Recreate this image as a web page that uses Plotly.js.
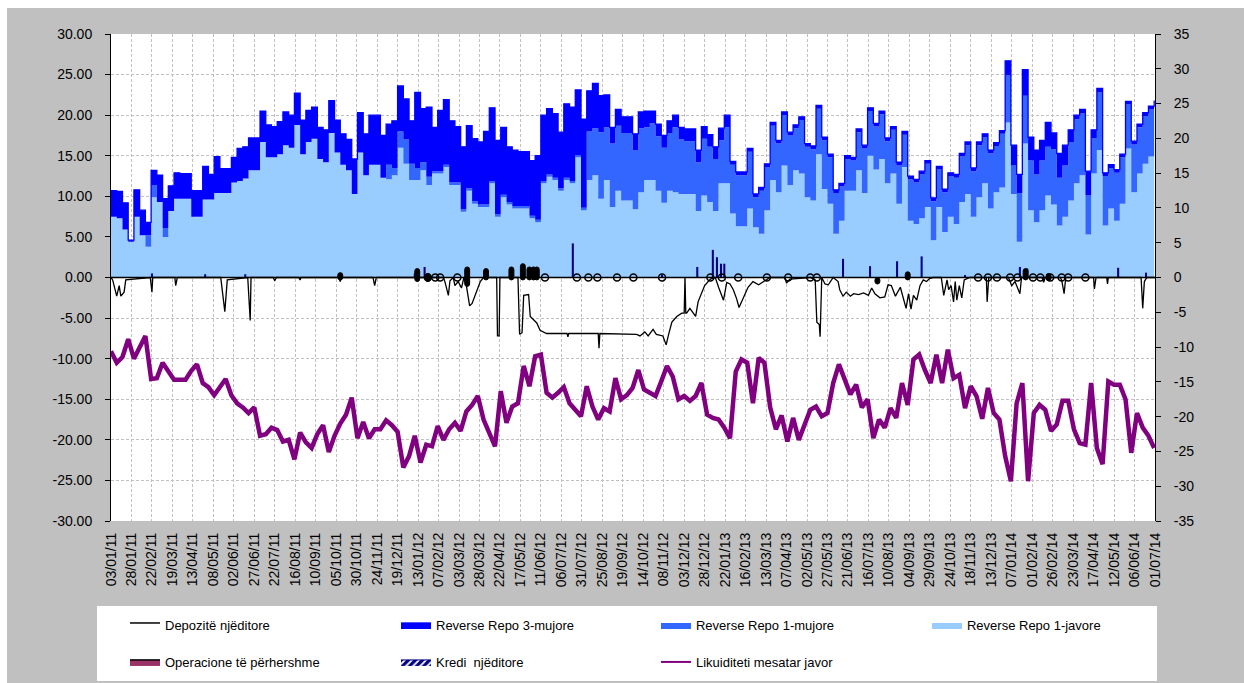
<!DOCTYPE html>
<html><head><meta charset="utf-8">
<script src="https://cdn.plot.ly/plotly-3.0.1.min.js"></script>
<style>html,body{margin:0;padding:0;background:#fff;} #chart{width:1244px;height:683px;}</style>
</head><body><div id="chart"></div>
<script>
const FONT = 'Liberation Sans, Arial, Helvetica, sans-serif';

// x-axis tick labels (every 25 days)
const xTickLabels = ['03/01/11','28/01/11','22/02/11','19/03/11','13/04/11','08/05/11','02/06/11','27/06/11','22/07/11','16/08/11','10/09/11','05/10/11','30/10/11','24/11/11','19/12/11',
'13/01/12','07/02/12','03/03/12','28/03/12','22/04/12','17/05/12','11/06/12','06/07/12','31/07/12','25/08/12','19/09/12','14/10/12','08/11/12','03/12/12','28/12/12',
'22/01/13','16/02/13','13/03/13','07/04/13','02/05/13','27/05/13','21/06/13','16/07/13','10/08/13','04/09/13','29/09/13','24/10/13','18/11/13','13/12/13',
'07/01/14','01/02/14','26/02/14','23/03/14','17/04/14','12/05/14','06/06/14','01/07/14'];
const leftTicks = [-30,-25,-20,-15,-10,-5,0,5,10,15,20,25,30];
const rightTicks = [-35,-30,-25,-20,-15,-10,-5,0,5,10,15,20,25,30,35];

// weekly series (week 0 = 03/01/2011)
const repo1javore = [
7.5,7.3,5.9,4.4,7.5,5.2,3.8,9.9,9.3,5.0,
8.2,9.7,9.7,9.7,7.5,7.5,9.6,9.6,10.4,10.4,
10.4,11.7,11.9,12.2,13.2,13.2,16.7,14.8,14.8,15.2,
16.3,16.0,18.8,15.2,16.7,17.1,14.6,14.2,17.8,15.4,
13.9,13.2,10.3,15.4,12.6,13.9,13.9,12.3,12.1,12.6,
16.0,14.0,12.0,12.0,13.2,11.4,12.8,12.8,13.6,11.4,
11.4,8.1,10.7,9.1,8.7,8.7,11.6,7.5,9.9,9.0,
8.5,8.5,8.5,7.3,6.8,11.6,12.4,12.0,10.7,12.0,
11.6,14.8,8.3,12.0,12.6,9.7,12.0,8.7,10.7,9.5,
9.5,8.4,10.5,12.0,12.0,10.7,9.2,10.7,10.5,10.3,
10.3,10.3,8.2,10.1,9.3,8.2,11.6,11.6,7.9,6.3,
6.3,8.5,6.2,5.4,8.3,12.0,10.5,13.8,11.4,13.2,
12.8,9.9,9.5,15.2,10.9,9.1,5.4,7.0,10.7,10.7,
13.2,10.4,15.0,13.3,14.6,11.6,12.8,9.1,13.6,7.0,
6.6,7.3,8.7,4.6,8.7,5.6,7.5,6.6,9.3,10.3,
7.5,9.9,11.6,8.5,10.5,11.1,19.1,10.3,4.4,16.5,
8.3,6.8,8.3,10.1,9.0,6.4,7.5,9.5,11.6,12.6,
5.3,12.8,15.7,6.4,8.5,7.0,9.1,15.9,10.5,12.8,
14.0,14.9,14.9];
const repo1mujore = [
0,0,0,0,0,0,1.4,1.5,0,1.1,
0,0,0,0,0,0,0,0,0,0,
0,0,0,0,0,0,0,0,0,0,
0,0,0,0,0,0,0,0,0,0,
0,0,0,0,0,0,0,0,1.8,0.9,
2.0,3.0,2.0,1.5,1.0,1.0,0.3,0.3,0.3,0.3,
0.3,0.3,0.3,0.3,0.3,0.3,0.3,0.3,0.3,0.3,
0.3,0.3,0.3,0.3,0.3,0.3,0.3,0.3,0.3,0.3,
0.3,0.3,0.3,6.0,5.8,8.2,6.5,7.8,8.0,8.3,
8.3,7.3,7.9,6.5,7.0,6.7,6.8,7.1,8.0,6.7,
6.5,6.5,6.0,7.0,6.8,6.4,5.3,6.9,6.0,6.3,
6.3,7.0,3.7,5.3,5.3,6.7,6.0,6.2,6.1,5.2,
6.6,6.2,6.3,5.6,6.0,5.7,5.0,4.2,3.9,3.7,
4.7,5.5,5.5,5.3,5.5,5.2,5.4,4.7,4.0,5.1,
5.1,5.4,5.3,4.8,4.6,4.9,5.0,5.7,5.6,6.0,
5.6,6.4,5.7,6.8,5.7,6.6,5.8,3.5,6.0,5.9,
6.1,5.9,6.1,6.0,6.8,5.9,6.3,7.2,7.9,7.6,
4.8,4.4,7.1,6.1,5.0,5.9,5.7,5.4,5.9,5.7,
5.9,5.8,6.5];
const repo3mujore = [
3.2,3.3,3.3,0.2,3.3,3.1,1.6,1.8,3.3,3.6,
3.1,3.2,3.1,3.1,3.2,3.2,4.1,3.1,4.5,3.0,
3.0,3.1,4.0,3.9,4.0,4.0,3.8,4.0,3.8,4.0,
4.1,4.0,3.9,4.2,3.9,3.9,3.9,4.0,4.0,4.0,
3.8,3.8,4.3,4.9,5.1,6.1,6.1,5.2,5.0,5.8,
5.6,5.0,5.3,9.3,6.6,8.6,5.4,7.5,8.0,7.6,
6.9,7.7,7.7,7.7,7.7,9.0,9.0,9.1,8.3,6.8,
6.9,6.7,6.7,6.8,7.9,8.1,8.1,7.9,6.9,9.1,
9.1,8.0,10.9,5.0,5.5,4.5,4.0,2.0,2.0,2.0,
2.0,2.0,2.0,2.0,1.5,1.5,1.5,1.5,1.5,1.5,
1.5,1.5,1.5,1.5,1.5,1.5,1.5,1.5,0.4,0.4,
0.4,0.4,0.4,0.4,0.4,0.4,0.4,0.4,0.4,0.4,
0.4,0.4,0.4,0.4,0.4,0.4,0.4,0.4,0.4,0.4,
0.4,0.4,0.4,0.4,0.4,0.4,0.4,0.4,0.4,0.4,
0.4,0.4,0.4,0.4,0.4,0.4,0.4,0.4,0.4,0.4,
0.4,0.4,0.4,0.4,0.4,0.4,1.8,2.5,2.3,3.2,
2.9,3.0,2.5,3.0,2.0,3.0,2.5,1.5,0.5,0.5,
3.0,1.0,0.5,0.4,0.4,0.4,0.4,0.4,0.4,0.4,
0.4,0.4,0.4];
const likuiditetiJavor = [
-9.1,-10.5,-9.8,-7.6,-10.0,-8.7,-7.2,-12.5,-12.4,-10.5,
-11.5,-12.6,-12.6,-12.6,-11.5,-10.7,-13.0,-13.5,-14.5,-13.6,
-12.5,-14.5,-15.5,-16.0,-16.7,-16.0,-19.5,-19.3,-18.5,-18.8,
-20.2,-20.0,-22.4,-19.1,-20.3,-21.0,-19.3,-18.2,-21.5,-19.5,
-18.0,-16.9,-14.8,-19.8,-17.8,-19.8,-18.7,-18.7,-17.6,-18.2,
-19.0,-23.4,-22.0,-19.5,-22.8,-20.6,-20.8,-18.3,-20.0,-18.7,
-17.9,-18.9,-16.5,-15.7,-14.6,-17.5,-19.0,-20.8,-14.0,-17.9,
-15.9,-15.5,-10.9,-13.4,-9.7,-9.5,-14.2,-14.8,-14.2,-13.5,
-15.5,-16.3,-17.1,-13.4,-15.9,-17.5,-16.1,-16.5,-12.4,-15.0,
-14.5,-13.6,-11.4,-13.8,-14.2,-14.6,-12.8,-10.9,-12.2,-15.0,
-14.6,-15.2,-14.6,-13.0,-16.9,-17.3,-17.5,-18.5,-19.8,-11.6,
-10.1,-10.5,-15.5,-9.9,-10.5,-16.0,-18.7,-17.0,-20.2,-17.3,
-20.0,-18.0,-16.3,-15.9,-17.1,-16.7,-13.0,-10.7,-12.5,-14.4,
-13.2,-16.0,-15.0,-19.8,-17.5,-18.5,-16.1,-17.3,-13.0,-15.7,
-10.1,-9.5,-11.4,-13.0,-9.5,-13.0,-8.9,-12.4,-12.0,-16.1,
-13.4,-14.6,-17.4,-13.6,-16.7,-17.5,-22.0,-25.1,-15.5,-13.0,
-25.1,-16.7,-15.7,-16.3,-18.9,-18.1,-15.2,-15.2,-18.7,-20.4,
-20.6,-13.0,-21.0,-23.0,-12.8,-13.2,-13.2,-15.0,-21.6,-16.7,
-18.5,-19.5,-21.0];

// daily events (day offset from 03/01/2011)
const depozitaDay = [0,2,7,10,12,16,18,48,50,51,78,79,81,134,139,142,167,170,171,198,200,202,229,231,232,278,280,281,320,322,324,
406,408,412,414,418,420,424,428,431,434,438,441,447,451,455,471,472,474,475,497,499,502,504,510,512,516,520,524,532,
557,558,559,595,596,597,642,646,652,656,662,666,674,678,681,685,691,697,700,701,702,703,707,711,714,717,721,725,732,
738,742,746,748,752,756,760,764,767,770,774,778,784,791,797,805,823,825,829,854,860,862,865,866,868,872,876,880,882,888,
890,894,898,903,907,913,919,925,929,933,939,945,949,953,958,964,968,971,974,977,980,984,988,992,996,1000,1004,1014,
1017,1021,1023,1026,1029,1031,1033,1036,1039,1042,1049,1069,1070,1072,1096,1098,1100,1104,1110,1112,1137,1139,1141,1159,1161,1164,
1166,1200,1201,1203,1216,1217,1218,1258,1260,1262,1265,1275];
const depozitaVal = [0,-0.3,-2.3,-1.0,-2.3,-1.8,-0.3,0,-1.8,0,0,-1.0,0,0,-4.2,-0.3,0,-5.3,0,0,-0.4,0,0,-0.3,0,0,-0.5,0,0,-1.0,0,
0,-0.6,-2.2,-0.4,0,-1.0,-0.5,-1.3,0,-1.0,-3.5,-3.2,-1.5,-0.5,0,0,-7.2,-7.2,0,0,-7.0,-6.8,-2.2,-2.1,-4.8,-5.2,-5.6,-6.5,-6.9,
-6.9,-7.3,-6.9,-6.9,-8.7,-6.9,-7.0,-7.2,-6.7,-7.2,-6.4,-7.0,-7.2,-8.3,-7.0,-5.5,-4.8,-4.4,-4.4,0,-4.4,-4.4,-3.8,-4.4,-4.8,-3.0,-2.0,-1.0,-0.2,
0,-1.2,-2.3,-2.8,-0.6,-0.8,-1.5,-2.6,-3.7,-3.0,-2.0,-1.2,-0.5,-0.9,-0.5,0,0,-0.7,-0.2,0,-0.3,-5.5,-5.8,-7.3,0,-0.8,-0.9,-0.3,0,-0.5,
-1.5,-2.3,-1.8,-2.3,-2.0,-2.1,-1.9,-2.2,-1.3,-2.0,-2.5,-2.4,-0.9,-1.0,-2.3,-1.2,-2.8,-3.8,-2.0,-3.9,-2.2,-2.8,-1.0,-0.3,-0.5,-0.1,0,0,
-2.2,-0.3,-1.5,-1.0,-3.0,-0.5,-2.8,-1.0,-2.5,-0.3,0,0,-3.0,0,0,-0.4,-1.0,-0.5,-2.0,0,0,-0.6,0,0,-0.3,-2.0,
0,0,-1.4,0,0,-0.8,0,0,-3.8,-0.5,0,0];
const krediDay = [50,115,164,371,383,564,673,716,735,740,745,749,894,927,960,990,1043,1110,1119,1230,1264];
const krediVal = [0.5,0.4,0.4,0.5,1.3,4.2,0.3,1.3,3.4,2.5,1.7,1.7,2.3,1.4,2.0,2.6,0.3,1.3,1.1,1.2,0.6];
const operacioneDay  = [280,374,387,435,458,489,503,511,516,520,936,973,1117,1145];
const operacioneTop  = [0.6,1.1,0.5,1.3,1.1,1.3,1.7,1.3,1.3,1.3,0.0,0.7,1.1,0.5];
const operacioneBase = [-0.3,-0.5,-0.5,-1.1,-0.3,-0.3,-0.3,-0.3,-0.3,-0.3,-0.8,-0.3,-0.3,-0.4];
const marker0Day = [387,396,402,423,530,569,583,594,618,638,673,732,746,766,801,827,854,862,1059,1071,1082,1098,1107,1126,1135,1147,1161,1169,1190];
const marker0Val = [0,0,0,0,0,0,0,0,0,0,0,0,0,0,0,0,0,0,0,0,0,0,0,0,0,0,0,0,0];

const DAY = 86400000;
const T0 = Date.UTC(2011,0,3);
function dayToISO(d){ return new Date(T0 + d*DAY).toISOString().slice(0,10); }
function labelToISO(s){ const p = s.split('/'); return '20'+p[2]+'-'+p[1]+'-'+p[0]; }
const weekDates = repo1javore.map((_, i) => dayToISO(7*i));

const traces = [
  {type:'scatter', x:weekDates, y:repo1javore, stackgroup:'repo', mode:'lines', line:{width:0, shape:'hv', color:'#99CCFF'}, fillcolor:'#99CCFF', name:'Reverse Repo 1-javore', legend:'legend3', legendrank:4, hoverinfo:'skip'},
  {type:'scatter', x:weekDates, y:repo1mujore, stackgroup:'repo', mode:'lines', line:{width:0, shape:'hv', color:'#3366FF'}, fillcolor:'#3366FF', name:'Reverse Repo 1-mujore', legend:'legend3', legendrank:3, hoverinfo:'skip'},
  {type:'scatter', x:weekDates, y:repo3mujore, stackgroup:'repo', mode:'lines', line:{width:1.3, shape:'hv', color:'#0000FF'}, fillcolor:'#0000FF', name:'Reverse Repo 3-mujore', legend:'legend', legendrank:2, hoverinfo:'skip'},
  {type:'scatter', x:[weekDates[0]], y:[0], yaxis:'y2', mode:'markers', marker:{opacity:0}, showlegend:false, hoverinfo:'skip'},
  {type:'bar', x:krediDay.map(dayToISO), y:krediVal, yaxis:'y3', width:2.5*DAY, marker:{color:'#000080', line:{width:0}}, showlegend:false, hoverinfo:'skip'},
  {type:'bar', x:operacioneDay.map(dayToISO), y:operacioneTop.map((t,i)=>t-operacioneBase[i]), base:operacioneBase, yaxis:'y3', width:6*DAY, marker:{color:'#000000', cornerradius:'50%', line:{color:'#000', width:1}}, showlegend:false, hoverinfo:'skip'},
  {type:'scatter', x:marker0Day.map(dayToISO), y:marker0Val, yaxis:'y3', mode:'markers', marker:{symbol:'circle-open', size:7, color:'#000', line:{width:1.5, color:'#000'}}, showlegend:false, hoverinfo:'skip'},
  {type:'scatter', x:depozitaDay.map(dayToISO), y:depozitaVal, yaxis:'y3', mode:'lines', line:{color:'#000', width:1.3}, showlegend:false, hoverinfo:'skip'},
  {type:'scatter', x:weekDates, y:likuiditetiJavor, yaxis:'y3', mode:'lines', line:{color:'#800080', width:4.5}, showlegend:false, hoverinfo:'skip'},
  // legend entries
  {type:'scatter', x:[null], y:[null], yaxis:'y3', mode:'lines', fill:'toself', fillcolor:'#ffffff', line:{color:'#000', width:1.5}, name:'Depozitë njëditore', legend:'legend', legendrank:1},
  {type:'scatter', x:[null], y:[null], yaxis:'y3', mode:'lines', fill:'toself', fillcolor:'#993366', line:{color:'#000', width:1.5}, name:'Operacione të përhershme', legend:'legend2', legendrank:5},
  {type:'scatter', x:[null], y:[null], yaxis:'y3', mode:'lines', fill:'toself', fillcolor:'#000080', fillpattern:{shape:'/', fgcolor:'#ffffff', bgcolor:'#000080', size:5, solidity:0.35}, line:{color:'#000080', width:1}, name:'Kredi\u00a0 njëditore', legend:'legend2', legendrank:6},
  {type:'scatter', x:[null], y:[null], yaxis:'y3', mode:'lines', line:{color:'#800080', width:2}, name:'Likuiditeti mesatar javor', legend:'legend4', legendrank:7}
];

const gridStyle = {gridcolor:'#c0c0c0', gridwidth:1, griddash:'3px,2px'};
function legendAt(x, y){
  return {x:x, y:y, orientation:'h', xanchor:'left', yanchor:'middle', bgcolor:'rgba(0,0,0,0)', borderwidth:0,
    font:{family:FONT, size:13, color:'#000'}, entrywidth:226, entrywidthmode:'pixels', itemwidth:30,
    traceorder:'normal', itemclick:false, itemdoubleclick:false};
}

const layout = {
  width:1244, height:683,
  margin:{l:111, r:89, t:34, b:162, pad:0, autoexpand:false},
  paper_bgcolor:'#c0c0c0', plot_bgcolor:'#ffffff',
  font:{family:FONT, size:14, color:'#000'},
  barmode:'overlay',
  showlegend:true,
  xaxis:Object.assign({type:'date', range:[dayToISO(0), dayToISO(1275)], tickmode:'array',
    tickvals:xTickLabels.map(labelToISO), ticktext:xTickLabels, tickangle:-90, tickfont:{family:FONT, size:14, color:'#000'},
    showgrid:true, showline:false, ticks:'', zeroline:false, automargin:false, ticklabelstandoff:8, fixedrange:true}, gridStyle),
  yaxis:Object.assign({range:[-30,30], tickmode:'array', tickvals:leftTicks, ticktext:leftTicks.map(v=>v.toFixed(2)),
    ticks:'outside', ticklen:5, tickcolor:'#000', showline:true, linecolor:'#000', linewidth:1, zeroline:false,
    automargin:false, ticklabelstandoff:10, tickfont:{family:FONT, size:14, color:'#000'}, fixedrange:true}, gridStyle),
  yaxis2:{overlaying:'y', side:'right', range:[-35,35], tickmode:'array', tickvals:rightTicks, ticktext:rightTicks.map(v=>String(v)),
    ticks:'outside', ticklen:5, tickcolor:'#000', showline:true, linecolor:'#000', linewidth:1, showgrid:false, zeroline:false,
    automargin:false, ticklabelstandoff:10, tickfont:{family:FONT, size:14, color:'#000'}, fixedrange:true},
  yaxis3:{overlaying:'y', range:[-30,30], visible:false, fixedrange:true},
  legend:legendAt(0.0134, -0.2136),
  legend3:legendAt(0.522, -0.2136),
  legend2:legendAt(0.0134, -0.2895),
  legend4:legendAt(0.522, -0.2895),
  shapes:[
    {type:'rect', xref:'paper', yref:'paper', x0:-0.2, x1:1.2, y0:1.0534, y1:1.2, fillcolor:'#ffffff', line:{width:0}, layer:'below'},
    {type:'rect', xref:'paper', yref:'paper', x0:-0.2, x1:-0.0996, y0:-0.5, y1:1.2, fillcolor:'#ffffff', line:{width:0}, layer:'below'},
    {type:'rect', xref:'paper', yref:'paper', x0:-0.0134, x1:1.0019, y0:-0.3285, y1:-0.1745, fillcolor:'#ffffff', line:{width:0}, layer:'below'},
    {type:'line', xref:'paper', yref:'y', x0:0, x1:1, y0:0, y1:0, line:{color:'#000', width:1.5}, layer:'above'}
  ]
};

Plotly.newPlot('chart', traces, layout, {staticPlot:true, displayModeBar:false});
</script></body></html>
